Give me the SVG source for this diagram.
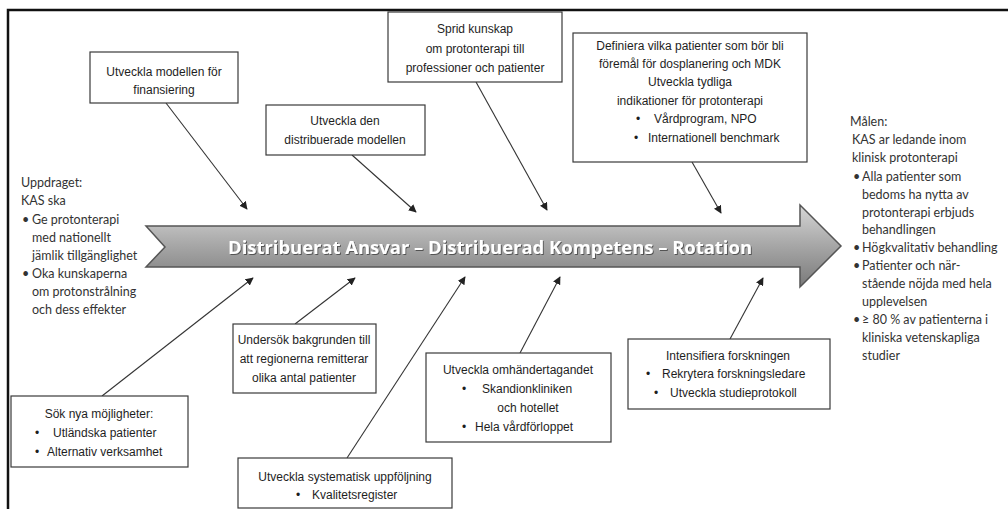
<svg xmlns="http://www.w3.org/2000/svg" width="1008" height="509" viewBox="0 0 1008 509">
<style>
.box{fill:#fff;stroke:#3a3a3a;stroke-width:1.2}
.bt{font-family:"Liberation Sans",Arial,sans-serif;font-size:12px;fill:#1e1e1e}
.c{text-anchor:middle}
.side{font-family:Lato,"Liberation Sans",sans-serif;font-size:12.5px;fill:#333}
.con line{stroke:#333;stroke-width:1.1}
</style>
<defs>
<marker id="ah" viewBox="0 0 10 10" refX="9" refY="5" markerWidth="8" markerHeight="8" markerUnits="userSpaceOnUse" orient="auto">
<path d="M0,0 L10,5 L0,10 z" fill="#222"/>
</marker>
<linearGradient id="g" x1="0" y1="0" x2="0" y2="1">
<stop offset="0" stop-color="#d6d6d6"/>
<stop offset="0.5" stop-color="#a6a6a6"/>
<stop offset="1" stop-color="#7a7a7a"/>
</linearGradient>
<filter id="sh" x="-5%" y="-30%" width="110%" height="160%">
<feDropShadow dx="1" dy="1" stdDeviation="0.6" flood-color="#333" flood-opacity="0.7"/>
</filter>
</defs>
<rect width="1008" height="509" fill="#fff"/>
<path d="M8,509 L8,10 L1008,10" fill="none" stroke="#111" stroke-width="2.5"/>

<g id="spine">
<path d="M146,226 L800,226 L800,205 L841,246 L800,287 L800,267 L146,267 L165,247 Z" fill="url(#g)" stroke="#555" stroke-width="1.5"/>
<text x="490" y="254" text-anchor="middle" font-family="'Open Sans','DejaVu Sans',sans-serif" font-weight="bold" font-size="17" fill="#fff" textLength="524" lengthAdjust="spacingAndGlyphs" filter="url(#sh)">Distribuerat Ansvar – Distribuerad Kompetens – Rotation</text>
</g>

<g id="connectors" class="con">
<line x1="166" y1="103" x2="247" y2="209" marker-end="url(#ah)"/>
<line x1="352" y1="155" x2="416" y2="212" marker-end="url(#ah)"/>
<line x1="476" y1="82" x2="547" y2="210" marker-end="url(#ah)"/>
<line x1="692" y1="162" x2="721" y2="213" marker-end="url(#ah)"/>
<line x1="102" y1="396" x2="253" y2="278" marker-end="url(#ah)"/>
<line x1="295" y1="324" x2="355" y2="278" marker-end="url(#ah)"/>
<line x1="347" y1="458" x2="465" y2="277" marker-end="url(#ah)"/>
<line x1="520" y1="353" x2="560" y2="277" marker-end="url(#ah)"/>
<line x1="730" y1="339" x2="763" y2="278" marker-end="url(#ah)"/>
</g>

<g id="n-finansiering">
<rect class="box" x="90" y="52" width="148" height="51"/>
<text class="bt c" x="164" y="76">Utveckla modellen för</text>
<text class="bt c" x="164" y="94">finansiering</text>
</g>

<g id="n-distribuerade">
<rect class="box" x="266" y="105" width="159" height="50"/>
<text class="bt c" x="345" y="125">Utveckla den</text>
<text class="bt c" x="345" y="144">distribuerade modellen</text>
</g>

<g id="n-sprid">
<rect class="box" x="388" y="12" width="174" height="70"/>
<text class="bt c" x="475" y="33">Sprid kunskap</text>
<text class="bt c" x="475" y="53">om protonterapi till</text>
<text class="bt c" x="475" y="72">professioner och patienter</text>
</g>

<g id="n-definiera">
<rect class="box" x="573" y="33" width="234" height="129"/>
<text class="bt c" x="690" y="50">Definiera vilka patienter som bör bli</text>
<text class="bt c" x="690" y="68">föremål för dosplanering och MDK</text>
<text class="bt c" x="690" y="86">Utveckla tydliga</text>
<text class="bt c" x="690" y="105">indikationer för protonterapi</text>
<text class="bt" x="636" y="123">•<tspan x="654">Vårdprogram, NPO</tspan></text>
<text class="bt" x="634" y="142">•<tspan x="648">Internationell benchmark</tspan></text>
</g>

<g id="n-sok">
<rect class="box" x="11" y="396" width="177" height="71"/>
<text class="bt c" x="99" y="418">Sök nya möjligheter:</text>
<text class="bt" x="35" y="437">•<tspan x="53">Utländska patienter</tspan></text>
<text class="bt" x="35" y="456">•<tspan x="47">Alternativ verksamhet</tspan></text>
</g>

<g id="n-undersok">
<rect class="box" x="233" y="324" width="143" height="69"/>
<text class="bt c" x="304" y="344">Undersök bakgrunden till</text>
<text class="bt c" x="304" y="363">att regionerna remitterar</text>
<text class="bt c" x="304" y="382">olika antal patienter</text>
</g>

<g id="n-uppfoljning">
<rect class="box" x="238" y="458" width="214" height="50"/>
<text class="bt c" x="345" y="481">Utveckla systematisk uppföljning</text>
<text class="bt" x="296" y="499">•<tspan x="312">Kvalitetsregister</tspan></text>
</g>

<g id="n-omhandertagandet">
<rect class="box" x="426" y="353" width="185" height="89"/>
<text class="bt c" x="518" y="374">Utveckla omhändertagandet</text>
<text class="bt" x="462" y="393">•<tspan x="482">Skandionkliniken</tspan></text>
<text class="bt c" x="528" y="412">och hotellet</text>
<text class="bt" x="462" y="431">•<tspan x="475">Hela vårdförloppet</tspan></text>
</g>

<g id="n-forskning">
<rect class="box" x="628" y="339" width="202" height="70"/>
<text class="bt c" x="728" y="360">Intensifiera forskningen</text>
<text class="bt" x="646" y="378">•<tspan x="662">Rekrytera forskningsledare</tspan></text>
<text class="bt" x="654" y="397">•<tspan x="670">Utveckla studieprotokoll</tspan></text>
</g>

<g id="n-uppdraget">
<text class="side" x="21" y="187">Uppdraget:</text>
<text class="side" x="21" y="205">KAS ska</text>
<text class="side" x="22" y="224">•<tspan x="32">Ge protonterapi</tspan></text>
<text class="side" x="32" y="242">med nationellt</text>
<text class="side" x="32" y="260">jämlik tillgänglighet</text>
<text class="side" x="22" y="278">•<tspan x="32">Oka kunskaperna</tspan></text>
<text class="side" x="32" y="296">om protonstrålning</text>
<text class="side" x="32" y="314">och dess effekter</text>
</g>

<g id="n-malen">
<text class="side" x="850" y="126">Målen:</text>
<text class="side" x="852" y="144">KAS ar ledande inom</text>
<text class="side" x="852" y="162">klinisk protonterapi</text>
<text class="side" x="853" y="181">•<tspan x="862">Alla patienter som</tspan></text>
<text class="side" x="862" y="199">bedoms ha nytta av</text>
<text class="side" x="862" y="217">protonterapi erbjuds</text>
<text class="side" x="862" y="234">behandlingen</text>
<text class="side" x="853" y="252">•<tspan x="862">Högkvalitativ behandling</tspan></text>
<text class="side" x="853" y="270">•<tspan x="862">Patienter och när-</tspan></text>
<text class="side" x="862" y="288">stående nöjda med hela</text>
<text class="side" x="862" y="306">upplevelsen</text>
<text class="side" x="853" y="324">•<tspan x="862">≥ 80 % av patienterna i</tspan></text>
<text class="side" x="862" y="342">kliniska vetenskapliga</text>
<text class="side" x="862" y="360">studier</text>
</g>
</svg>
